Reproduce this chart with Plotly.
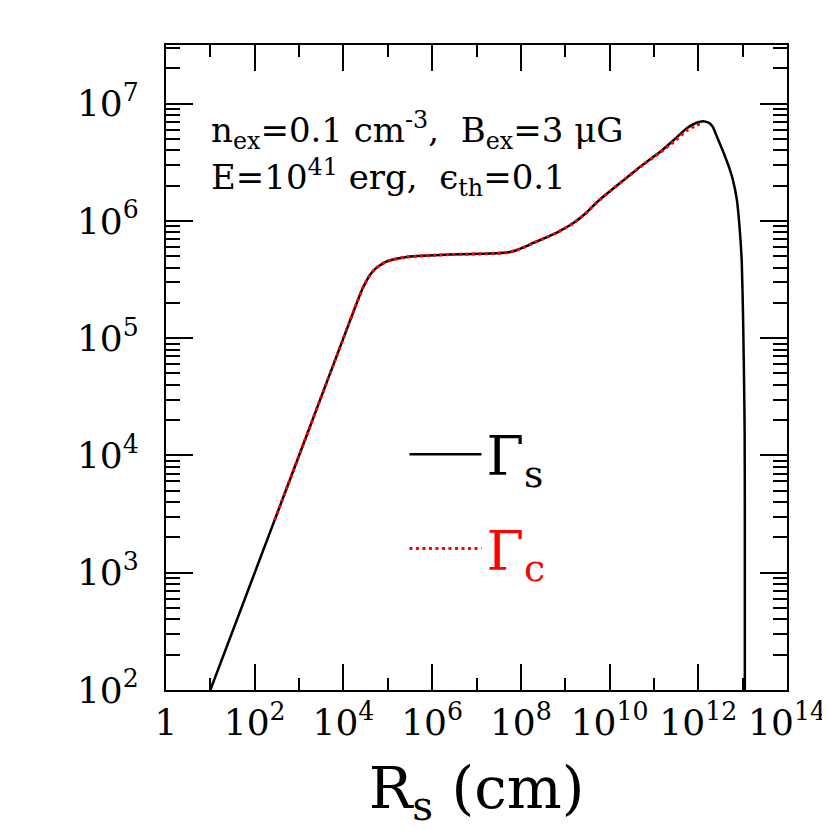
import plotly.graph_objects as go

# shock radius R_s (cm) and Lorentz factor of the shock, Gamma_s
r_s = [1e1, 1e2, 1e3, 1e4, 2.0e4, 2.75e4, 3.55e4, 4.37e4, 5.37e4,
       6.61e4, 8.91e4, 1.32e5, 2.51e5, 4.57e5, 1.51e6, 4.27e6, 1.58e7,
       4.9e7, 7.94e7, 1.26e8, 1.86e8, 3.55e8, 6.46e8, 1e9, 1.51e9,
       2.82e9, 5.25e9, 1e10, 2.45e10, 5.62e10, 1.38e11, 2.82e11,
       5.5e11, 8.9e11, 1.29e12, 1.78e12, 2.14e12, 2.75e12, 3.55e12,
       5.01e12, 6.03e12, 7.41e12, 8.51e12, 9.55e12, 1.02e13, 1.07e13,
       1.11e13, 1.12e13, 1.12e13]
gamma_s = [1e2, 1e3, 1e4, 1e5, 2.0e5, 2.69e5, 3.24e5, 3.63e5, 3.94e5,
           4.17e5, 4.47e5, 4.68e5, 4.90e5, 5.01e5, 5.13e5, 5.19e5, 5.25e5,
           5.37e5, 5.62e5, 6.03e5, 6.46e5, 7.16e5, 7.94e5, 8.71e5, 9.55e5,
           1.15e6, 1.45e6, 1.78e6, 2.34e6, 3.02e6, 3.89e6, 4.9e6,
           6.17e6, 6.84e6, 7.08e6, 6.84e6, 6.31e6, 5.01e6, 3.98e6,
           2.82e6, 2.24e6, 1.51e6, 8.91e5, 4.47e5, 1.58e5, 5.01e4,
           1.58e4, 3.16e3, 1e2]

# Lorentz factor of the contact discontinuity, Gamma_c
r_c = [2.82e2, 1e3, 1e4, 2.0e4, 2.75e4, 3.55e4, 4.37e4, 5.37e4,
       6.61e4, 8.91e4, 1.32e5, 2.51e5, 4.57e5, 1.51e6, 4.27e6, 1.58e7,
       4.9e7, 7.94e7, 1.26e8, 1.86e8, 3.55e8, 6.46e8, 1e9, 1.51e9,
       2.82e9, 5.25e9, 1e10, 2.45e10, 5.62e10, 1.38e11, 2.82e11,
       5.5e11, 8.9e11, 1.29e12]
gamma_c = [2.82e3, 1e4, 1e5, 2.0e5, 2.69e5, 3.24e5, 3.63e5, 3.94e5,
           4.17e5, 4.47e5, 4.68e5, 4.90e5, 5.01e5, 5.13e5, 5.19e5, 5.25e5,
           5.37e5, 5.62e5, 6.03e5, 6.46e5, 7.16e5, 7.94e5, 8.71e5, 9.55e5,
           1.15e6, 1.45e6, 1.78e6, 2.34e6, 3.0e6, 3.84e6, 4.73e6,
           5.89e6, 6.53e6, 6.84e6]

x_major = [1e0, 1e2, 1e4, 1e6, 1e8, 1e10, 1e12, 1e14]
x_labels = ["1", "10<sup>2</sup>", "10<sup>4</sup>", "10<sup>6</sup>",
            "10<sup>8</sup>", "10<sup>10</sup>", "10<sup>12</sup>",
            "10<sup>14</sup>"]
x_minor = [1e1, 1e3, 1e5, 1e7, 1e9, 1e11, 1e13]

y_major = [1e2, 1e3, 1e4, 1e5, 1e6, 1e7]
y_labels = ["10<sup>2</sup>", "10<sup>3</sup>", "10<sup>4</sup>",
            "10<sup>5</sup>", "10<sup>6</sup>", "10<sup>7</sup>"]
y_minor = [k * 10 ** n for n in range(2, 8) for k in range(2, 10)
           if k * 10 ** n < 3.2e7]

serif = "DejaVu Serif"

fig = go.Figure()

fig.add_trace(go.Scatter(
    x=r_s, y=gamma_s, mode="lines", name="Γ<sub>s</sub>",
    line=dict(color="black", width=2.5, shape="spline", smoothing=0.5),
    legendgroup="s"
))

fig.add_trace(go.Scatter(
    x=r_c, y=gamma_c, mode="lines",
    name="<span style='color:red'>Γ<sub>c</sub></span>",
    line=dict(color="red", width=3, dash="3px,3.5px", shape="spline",
              smoothing=0.5),
    legendgroup="c"
))

# the page body adds an 8px offset, so the figure is 822 px and margins
# are shifted to keep the frame where the reference has it
fig.update_layout(
    width=822, height=822,
    margin=dict(l=158, r=43, t=37, b=140),
    paper_bgcolor="white", plot_bgcolor="white",
    font=dict(family=serif, color="black"),
    showlegend=True,
    legend=dict(
        x=0.384, y=0.43, xanchor="left", yanchor="top",
        bgcolor="rgba(0,0,0,0)", itemwidth=72, tracegroupgap=21,
        font=dict(family=serif, size=54),
    ),
    xaxis=dict(
        type="log", range=[0, 14], automargin=False,
        showgrid=False, zeroline=False,
        showline=True, linecolor="black", linewidth=2, mirror="ticks",
        ticks="inside", ticklen=26, tickwidth=2, tickcolor="black",
        tickmode="array", tickvals=x_major, ticktext=x_labels,
        tickfont=dict(family=serif, size=36),
        minor=dict(ticks="inside", ticklen=12, tickwidth=2,
                   tickcolor="black", tickmode="array", tickvals=x_minor,
                   showgrid=False),
        title=dict(text="R<sub>s</sub> (cm)", standoff=38,
                   font=dict(family=serif, size=58)),
    ),
    yaxis=dict(
        type="log", range=[2, 7.5], automargin=False,
        showgrid=False, zeroline=False,
        showline=True, linecolor="black", linewidth=2, mirror="ticks",
        ticks="inside", ticklen=27, tickwidth=2, tickcolor="black",
        tickmode="array", tickvals=y_major, ticktext=y_labels,
        tickfont=dict(family=serif, size=36),
        ticklabelstandoff=18,
        minor=dict(ticks="inside", ticklen=14, tickwidth=2,
                   tickcolor="black", tickmode="array", tickvals=y_minor,
                   showgrid=False),
    ),
)

fig.add_annotation(
    xref="paper", yref="paper", x=0.07, y=0.867, xanchor="left",
    yanchor="middle", showarrow=False,
    text="n<sub>ex</sub>=0.1 cm<sup>-3</sup>,  B<sub>ex</sub>=3 μG",
    font=dict(family=serif, size=34, color="black"),
)
fig.add_annotation(
    xref="paper", yref="paper", x=0.07, y=0.794, xanchor="left",
    yanchor="middle", showarrow=False,
    text="E=10<sup>41</sup> erg,  ϵ<sub>th</sub>=0.1",
    font=dict(family=serif, size=34, color="black"),
)

fig.write_html("out.html")
